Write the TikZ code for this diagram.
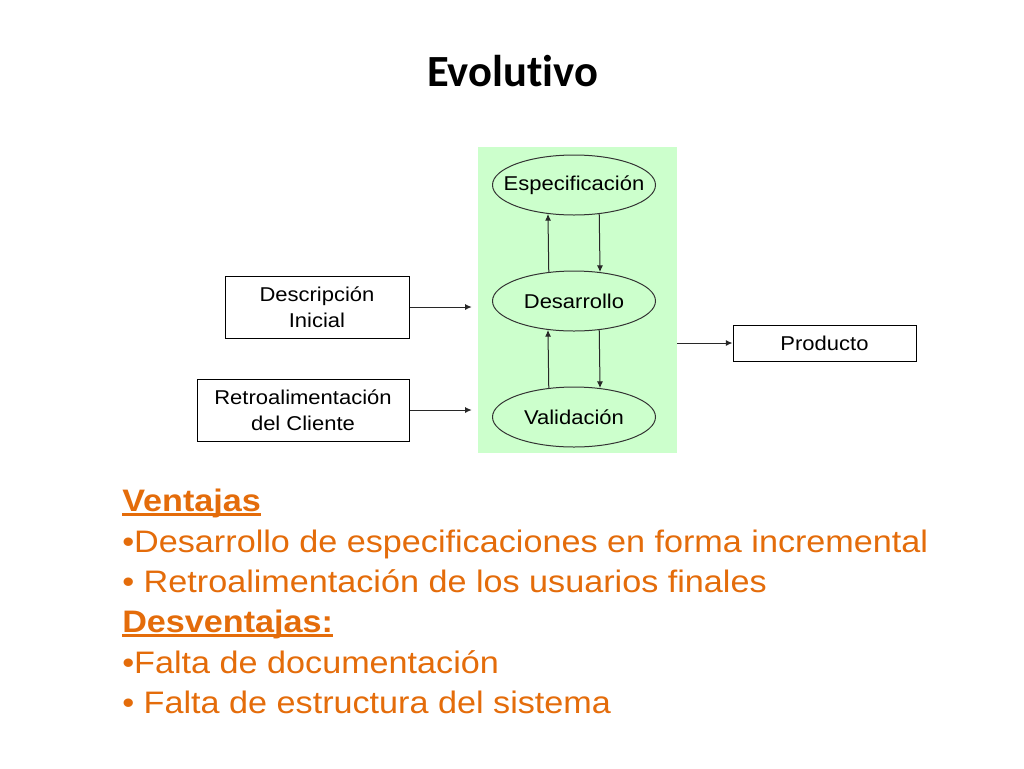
\documentclass[tikz,border=0pt]{standalone}
\usepackage{fontspec}
\setmainfont{Liberation Sans}
\newfontfamily\arialw[FakeStretch=1.1]{Liberation Sans}
\newfontfamily\titlefont[Ligatures={NoCommon,NoDiscretionary}]{Carlito}
\usetikzlibrary{shapes.geometric,arrows.meta}
\definecolor{panelgreen}{RGB}{204,255,204}
\definecolor{orangetxt}{RGB}{228,108,10}
\definecolor{linegray}{RGB}{40,40,40}
\newcommand{\ulbar}[1]{\setbox0\hbox{#1}\rlap{\rule[-3.4pt]{\wd0}{2.2pt}}\box0}
\newcommand{\zw}[1]{\makebox[0pt]{#1}}
\tikzset{
  box/.style={draw=black, line width=0.75pt, rectangle, inner sep=0pt, align=center,
              font=\arialw\fontsize{15}{19.5}\selectfont},
  oval/.style={draw=black!80, line width=0.75pt, ellipse, inner sep=0pt,
               minimum width=122.25pt, minimum height=45pt,
               font=\arialw\fontsize{15}{19.5}\selectfont},
  arr/.style={draw=linegray, line width=0.75pt, -{Latex[length=5pt,width=4.5pt]}},
  bullet/.style={anchor=base west, inner sep=0pt, text=orangetxt,
                 font=\arialw\fontsize{23.3}{28}\selectfont}
}
\begin{document}
\begin{tikzpicture}[x=0.75pt,y=-0.75pt]
\useasboundingbox (0,0) rectangle (1024,768);
\fill[white] (0,0) rectangle (1024,768);
% title
\node[anchor=base, inner sep=0pt, font=\titlefont\bfseries\fontsize{33.4}{40}\selectfont] (title) at (512.5,86.7) {Evolutivo};
% green panel
\node[rectangle, fill=panelgreen, inner sep=0pt, minimum width=149.25pt, minimum height=229.5pt] (panel) at (577.5,300) {};
% ellipses
\node[oval] (esp) at (574,185) {\zw{Especificación}};
\node[oval] (des) at (574,301) {\zw{Desarrollo}};
\node[oval] (val) at (574,417) {\zw{Validación}};
% boxes
\node[box, minimum width=138pt, minimum height=46.5pt] (desc) at (317,307) {Descripción\\Inicial};
\node[box, minimum width=159pt, minimum height=46.5pt] (retro) at (303,410) {Retroalimentación\\del Cliente};
\node[box, minimum width=137.25pt, minimum height=27pt] (prod) at (824.5,343) {Producto};
% arrows between ellipses
\draw[arr] (des.131.2) -- (esp.228.8);
\draw[arr] (esp.311.2) -- (des.48.8);
\draw[arr] (val.131.2) -- (des.228.8);
\draw[arr] (des.311.2) -- (val.48.8);
% inputs and output
\draw[arr, shorten >=4.5pt] (desc.east) -- (desc.east -| panel.west);
\draw[arr, shorten >=4.5pt] (retro.east) -- (retro.east -| panel.west);
\draw[arr] (panel.east |- prod.west) -- (prod.west);
% bottom text
\node[bullet] (t1) at (122,511) {\bfseries\ulbar{Ventajas}};
\node[bullet] (t2) at (122,552) {•Desarrollo de especificaciones en forma incremental};
\node[bullet] (t3) at (122,592) {• Retroalimentación de los usuarios finales};
\node[bullet] (t4) at (122,632.5) {\bfseries\ulbar{Desventajas:}};
\node[bullet] (t5) at (122,673) {•Falta de documentación};
\node[bullet] (t6) at (122,713) {• Falta de estructura del sistema};
\end{tikzpicture}
\end{document}
